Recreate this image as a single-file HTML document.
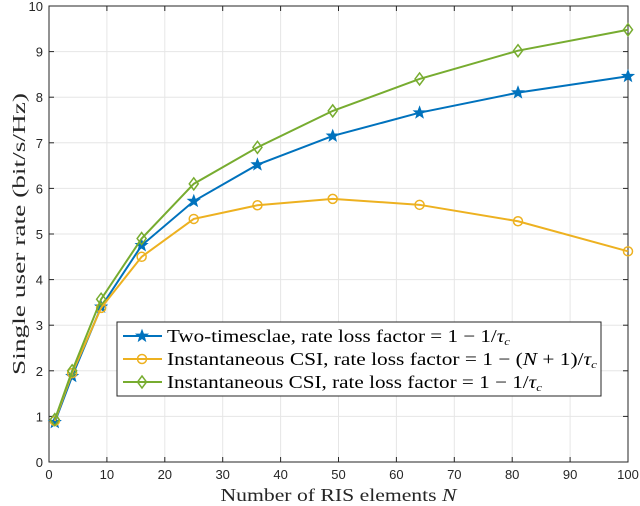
<!DOCTYPE html>
<html><head><meta charset="utf-8"><style>
body{margin:0;background:#fff}
svg{display:block;font-family:"Liberation Sans",sans-serif}
.lx{font-family:"Liberation Serif",serif}
</style></head><body>
<svg id="c" width="640" height="506"></svg>
<script>
const xs=[1,4,9,16,25,36,49,64,81,100];
const blueVals=[0.87,1.88,3.4,4.75,5.72,6.52,7.15,7.66,8.1,8.46];
const orangeVals=[0.9,1.95,3.38,4.5,5.33,5.63,5.77,5.64,5.28,4.62];
const greenVals=[0.93,2.0,3.57,4.9,6.1,6.9,7.7,8.4,9.02,9.48];
const xTicks=[0,10,20,30,40,50,60,70,80,90,100];
const yTicks=[0,1,2,3,4,5,6,7,8,9,10];
const L=49,R=628,T=6,B=462;
const X=v=>L+(R-L)*v/100, Y=v=>B-(B-T)*v/10;
const svg=document.getElementById('c');const NS='http://www.w3.org/2000/svg';
function mk(t,a,p){const e=document.createElementNS(NS,t);for(const k in a)e.setAttribute(k,a[k]);(p||svg).appendChild(e);return e;}
let g=mk('g',{});


xTicks.forEach(t=>{mk('line',{x1:X(t),x2:X(t),y1:T,y2:B,stroke:'#e6e6e6'},g);});
yTicks.forEach(t=>{mk('line',{x1:L,x2:R,y1:Y(t),y2:Y(t),stroke:'#e6e6e6'},g);});
let ax=mk('g',{});


mk('rect',{x:L,y:T,width:R-L,height:B-T,fill:'none',stroke:'#262626','stroke-width':1},ax);
xTicks.forEach(t=>{mk('line',{x1:X(t),x2:X(t),y1:B,y2:B-5,stroke:'#262626'},ax);mk('line',{x1:X(t),x2:X(t),y1:T,y2:T+5,stroke:'#262626'},ax);
const e=mk('text',{x:X(t),y:B+17,'text-anchor':'middle','font-size':13,fill:'#262626'},ax);e.textContent=t;

});
yTicks.forEach(t=>{mk('line',{x1:L,x2:L+5,y1:Y(t),y2:Y(t),stroke:'#262626'},ax);mk('line',{x1:R,x2:R-5,y1:Y(t),y2:Y(t),stroke:'#262626'},ax);
const e=mk('text',{x:L-6,y:Y(t)+5,'text-anchor':'end','font-size':13,fill:'#262626'},ax);e.textContent=t;

});
let xt=mk('text',{x:(L+R)/2,y:501,'text-anchor':'middle','font-size':18,class:'lx',fill:'#262626',textLength:236,lengthAdjust:'spacingAndGlyphs'});xt.innerHTML='Number of RIS elements <tspan font-style="italic">N</tspan>';


let yt=mk('text',{x:0,y:0,'text-anchor':'middle','font-size':18,class:'lx',fill:'#262626',textLength:282,lengthAdjust:'spacingAndGlyphs',transform:`translate(25,${(T+B)/2}) rotate(-90)`});yt.textContent='Single user rate (bit/s/Hz)';


function star(cx,cy,r,col,p){let d='';for(let i=0;i<10;i++){const a=-Math.PI/2+i*Math.PI/5,rr=i%2?r*0.42:r;d+=(i?'L':'M')+(cx+rr*Math.cos(a)).toFixed(1)+' '+(cy+rr*Math.sin(a)).toFixed(1);}return mk('path',{d:d+'Z',fill:col,stroke:col},p);}
function marker(type,cx,cy,col,p){if(type==='star')return star(cx,cy,6,col,p);
if(type==='circle')return mk('circle',{cx,cy,r:4.5,fill:'none',stroke:col,'stroke-width':1.5},p);
return mk('path',{d:`M${cx} ${cy-6}L${cx+4.5} ${cy}L${cx} ${cy+6}L${cx-4.5} ${cy}Z`,fill:'none',stroke:col,'stroke-width':1.5},p);}
const series=[[blueVals,'#0072bd','star','series-two-timescale'],[orangeVals,'#edb120','circle','series-instantaneous-n1'],[greenVals,'#77ac30','diamond','series-instantaneous-1']];
series.forEach(([vals,col,m,name])=>{const sg=mk('g',{});


mk('polyline',{points:xs.map((x,i)=>X(x)+','+Y(vals[i])).join(' '),fill:'none',stroke:col,'stroke-width':2},sg);
xs.forEach((x,i)=>{const mm=marker(m,X(x),Y(vals[i]),col,sg);

});});
const lg=mk('g',{});


mk('rect',{x:117,y:322,width:484,height:74,fill:'#fff',stroke:'#262626'},lg);
const labels=['Two-timesclae, rate loss factor = 1 − 1/<tspan font-style="italic">τ</tspan><tspan font-size="11" dy="3" font-style="italic">c</tspan>',
'Instantaneous CSI, rate loss factor = 1 − (<tspan font-style="italic">N</tspan> + 1)/<tspan font-style="italic">τ</tspan><tspan font-size="11" dy="3" font-style="italic">c</tspan>',
'Instantaneous CSI, rate loss factor = 1 − 1/<tspan font-style="italic">τ</tspan><tspan font-size="11" dy="3" font-style="italic">c</tspan>'];
const lens=[343,430,375];
series.forEach(([v,col,m],i)=>{const y=336+i*23;const eg=mk('g',{},lg);


mk('line',{x1:123,x2:162,y1:y,y2:y,stroke:col,'stroke-width':2},eg);marker(m,142,y,col,eg);
const t=mk('text',{x:167,y:y+6,'font-size':18,class:'lx',fill:'#000',textLength:lens[i],lengthAdjust:'spacingAndGlyphs'},eg);t.innerHTML=labels[i];});
</script>
</body></html>
